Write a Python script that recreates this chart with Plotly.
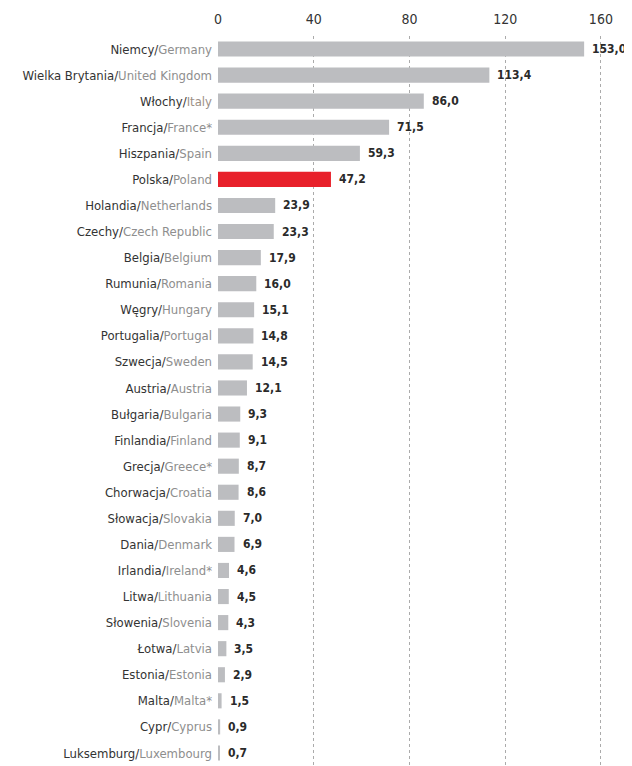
import plotly.graph_objects as go

pl_names = ["Niemcy", "Wielka Brytania", "Włochy", "Francja", "Hiszpania", "Polska", "Holandia",
            "Czechy", "Belgia", "Rumunia", "Węgry", "Portugalia", "Szwecja", "Austria", "Bułgaria",
            "Finlandia", "Grecja", "Chorwacja", "Słowacja", "Dania", "Irlandia", "Litwa", "Słowenia",
            "Łotwa", "Estonia", "Malta", "Cypr", "Luksemburg"]
en_names = ["Germany", "United Kingdom", "Italy", "France*", "Spain", "Poland", "Netherlands",
            "Czech Republic", "Belgium", "Romania", "Hungary", "Portugal", "Sweden", "Austria", "Bulgaria",
            "Finland", "Greece*", "Croatia", "Slovakia", "Denmark", "Ireland*", "Lithuania", "Slovenia",
            "Latvia", "Estonia", "Malta*", "Cyprus", "Luxembourg"]
values = [153.0, 113.4, 86.0, 71.5, 59.3, 47.2, 23.9, 23.3, 17.9, 16.0, 15.1, 14.8, 14.5, 12.1, 9.3,
          9.1, 8.7, 8.6, 7.0, 6.9, 4.6, 4.5, 4.3, 3.5, 2.9, 1.5, 0.9, 0.7]
x_ticks = [0, 40, 80, 120, 160]

FONT = "DejaVu Sans Condensed, Liberation Sans Narrow, Roboto, Arial"

cats = list(range(len(values)))
colors = ["#e8202a" if p == "Polska" else "#bcbdc0" for p in pl_names]
ticktext = []
for p, e in zip(pl_names, en_names):
    ec = "#9c8f86" if e == "Italy" else "#8e8e8e"
    ticktext.append(f"{p}/<span style='color:{ec}'>{e}</span>")

fig = go.Figure()
fig.add_trace(go.Bar(x=values, y=cats, orientation="h", marker=dict(color=colors, line=dict(width=0)),
                     width=0.58, hoverinfo="skip"))

for i, v in enumerate(values):
    fig.add_annotation(x=v, y=i, text="<b>" + f"{v:.1f}".replace(".", ",") + "</b>",
                       showarrow=False, xanchor="left", xshift=6,
                       font=dict(size=12, color="#2a2a2a", family=FONT))

fig.update_layout(
    width=624, height=758,
    margin=dict(l=210, r=0, t=28, b=0),
    paper_bgcolor="white", plot_bgcolor="white",
    showlegend=False,
    font=dict(family=FONT, size=13, color="#333333"),
    xaxis=dict(range=[0, 173], side="top", tickvals=x_ticks, ticktext=[str(t) for t in x_ticks],
               showgrid=True, gridcolor="#ababab", griddash="dot", gridwidth=1, zeroline=False,
               showline=False, ticks="", tickfont=dict(size=14, color="#333333"), automargin=False,
               ticklabelstandoff=8),
    yaxis=dict(tickvals=cats, ticktext=ticktext, range=[len(values) - 0.5, -0.5], autorange=False,
               showgrid=False, zeroline=False, showline=False, ticks="", ticklen=0,
               tickfont=dict(size=13, color="#333333"), automargin=False, ticklabelstandoff=5),
)

fig.write_html("out.html")
